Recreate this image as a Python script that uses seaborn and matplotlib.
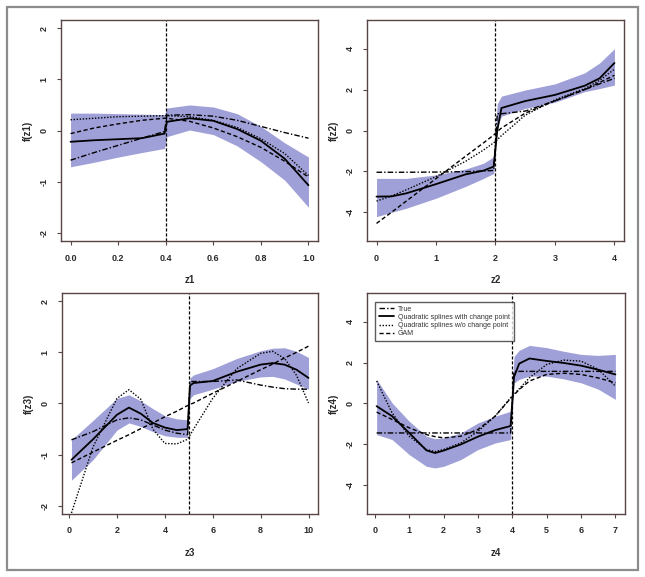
import seaborn as sns
import matplotlib.pyplot as plt
from matplotlib.patches import Rectangle

sns.set_style("ticks")
plt.rcParams["font.family"] = ["Liberation Sans", "DejaVu Sans"]
plt.rcParams["axes.unicode_minus"] = False

# values
z1 = [0.0, 0.1, 0.2, 0.3, 0.395, 0.405, 0.5, 0.6, 0.7, 0.8, 0.9, 1.0]
true1 = [-0.58, -0.43, -0.29, -0.15, -0.02, 0.30, 0.31, 0.28, 0.20, 0.08, -0.04, -0.15]
fit1 = [-0.22, -0.19, -0.17, -0.15, -0.06, 0.17, 0.24, 0.19, 0.03, -0.20, -0.55, -1.07]
nocp1 = [0.21, 0.24, 0.27, 0.28, 0.29, 0.29, 0.27, 0.20, 0.06, -0.16, -0.45, -0.88]
gam1 = [-0.06, 0.05, 0.13, 0.20, 0.24, 0.24, 0.18, 0.05, -0.12, -0.33, -0.60, -0.91]
hi1 = [0.34, 0.34, 0.33, 0.32, 0.31, 0.44, 0.50, 0.46, 0.33, 0.08, -0.24, -0.52]
lo1 = [-0.71, -0.62, -0.52, -0.43, -0.35, -0.12, 0.01, -0.08, -0.30, -0.61, -0.97, -1.50]

z2 = [0.0, 0.25, 0.5, 1.0, 1.5, 1.8, 1.97, 2.03, 2.1, 2.5, 3.0, 3.5, 3.75, 4.0]
true2 = [-2.04, -2.04, -2.04, -2.03, -2.01, -1.98, -1.95, 0.82, 0.82, 0.95, 1.45, 2.00, 2.28, 2.55]
fit2 = [-3.23, -3.22, -3.07, -2.62, -2.14, -1.96, -1.76, 0.0, 1.10, 1.44, 1.74, 2.19, 2.55, 3.30]
nocp2 = [-3.45, -3.20, -2.90, -2.25, -1.50, -0.95, -0.60, -0.45, -0.25, 0.75, 1.50, 2.05, 2.45, 3.00]
gam2 = [-4.54, -4.00, -3.45, -2.35, -1.25, -0.60, -0.22, -0.05, 0.12, 0.85, 1.45, 2.00, 2.35, 2.70]
hi2 = [-2.34, -2.34, -2.34, -2.17, -1.88, -1.60, -1.28, 1.30, 1.68, 1.98, 2.28, 2.82, 3.30, 4.00]
lo2 = [-4.21, -4.00, -3.80, -3.31, -2.73, -2.34, -2.10, 0.15, 0.70, 1.08, 1.38, 1.90, 2.05, 2.22]

z3 = [0.1, 1.0, 2.0, 2.5, 3.0, 3.5, 4.0, 4.5, 4.95, 5.05, 5.2, 6.0, 7.0, 8.0, 8.5, 9.0, 9.5, 10.0]
true3 = [-0.71, -0.55, -0.32, -0.28, -0.32, -0.42, -0.52, -0.58, -0.61, 0.43, 0.43, 0.43, 0.46, 0.36, 0.32,
         0.29, 0.28, 0.28]
fit3 = [-1.10, -0.70, -0.22, -0.08, -0.20, -0.38, -0.47, -0.52, -0.50, 0.35, 0.40, 0.44, 0.62, 0.76, 0.79,
        0.76, 0.66, 0.50]
nocp3 = [-2.14, -0.85, 0.10, 0.27, 0.08, -0.50, -0.78, -0.79, -0.70, -0.62, -0.50, 0.10, 0.68, 0.98, 1.02,
         0.88, 0.55, 0.01]
gam3 = [-1.16, -0.95, -0.72, -0.61, -0.49, -0.38, -0.26, -0.15, -0.04, -0.02, 0.01, 0.20, 0.43, 0.66, 0.77,
        0.89, 1.00, 1.12]
hi3 = [-0.71, -0.33, 0.10, 0.17, 0.05, -0.10, -0.24, -0.30, -0.32, 0.50, 0.56, 0.68, 0.88, 1.03, 1.08,
       1.09, 1.02, 0.90]
lo3 = [-1.50, -1.10, -0.52, -0.38, -0.45, -0.55, -0.63, -0.66, -0.66, 0.10, 0.17, 0.28, 0.43, 0.52, 0.53,
       0.48, 0.38, 0.28]

z4 = [0.05, 0.5, 1.0, 1.5, 1.75, 2.0, 2.5, 3.0, 3.5, 3.95, 4.05, 4.2, 4.5, 5.0, 5.5, 6.0, 6.5, 7.0]
true4 = [-1.44, -1.44, -1.44, -1.44, -1.44, -1.44, -1.44, -1.44, -1.44, -1.44, 1.57, 1.57, 1.57, 1.57,
         1.57, 1.57, 1.57, 1.57]
fit4 = [-0.13, -0.62, -1.44, -2.29, -2.42, -2.30, -2.00, -1.62, -1.30, -1.10, 1.30, 1.95, 2.20, 2.08,
        1.98, 1.85, 1.65, 1.42]
nocp4 = [1.10, -0.46, -1.60, -2.25, -2.35, -2.25, -1.93, -1.36, -0.62, 0.28, 0.45, 0.72, 1.26, 1.91,
         2.12, 2.07, 1.67, 0.85]
gam4 = [-0.42, -0.78, -1.19, -1.52, -1.62, -1.68, -1.60, -1.27, -0.62, 0.25, 0.42, 0.68, 1.10, 1.42,
        1.48, 1.42, 1.25, 1.01]
hi4 = [1.18, 0.03, -0.87, -1.60, -1.72, -1.68, -1.44, -0.95, -0.62, -0.38, 2.30, 2.60, 2.84, 2.73,
       2.55, 2.40, 2.35, 2.40]
lo4 = [-1.52, -1.76, -2.50, -3.07, -3.15, -3.07, -2.74, -2.25, -1.93, -1.76, 1.00, 1.18, 1.34, 1.34,
       1.20, 1.01, 0.70, 0.20]

change_points = [0.4, 2, 5, 4]
labels = ["True", "Quadratic splines with change point",
          "Quadratic splines w/o change point", "GAM"]

frame_col = "#574444"
band_col = "#a0a0d8"
text_col = "#2a2a2a"


def draw_panel(ax, x, true, fit, nocp, gam, lo, hi, cp, name, xlim, ylim,
               xticks, xticklabels, yticks, legend=False):
    ax.fill_between(x, lo, hi, color=band_col, lw=0, zorder=1)
    styles = [
        (true, (0, (4, 1.5, 1, 1.5)), 1.0),
        (fit, "-", 1.3),
        (nocp, (0, (1, 1.2)), 1.0),
        (gam, (0, (3, 1.8)), 1.0),
    ]
    for i, (y, ls, lw) in enumerate(styles):
        sns.lineplot(x=x, y=y, ax=ax, color="black", linestyle=ls, lw=lw,
                     estimator=None, sort=False, zorder=3,
                     label=labels[i] if legend else None)
    ax.axvline(cp, color="black", linestyle=(0, (2.5, 1.5)), lw=0.9, zorder=2)

    ax.set_xlim(*xlim)
    ax.set_ylim(*ylim)
    ax.set_xticks(xticks)
    ax.set_xticklabels(xticklabels)
    ax.set_yticks(yticks)
    ax.set_yticklabels([str(t) for t in yticks], rotation=90, va="center")
    ax.set_xlabel(name, fontsize=7, fontweight="bold", color=text_col, labelpad=9)
    ax.set_ylabel(f"f({name})", fontsize=7, fontweight="bold", color=text_col, labelpad=5)
    ax.tick_params(direction="out", length=3, width=0.8, color=frame_col,
                   labelsize=6.5, labelcolor=text_col, pad=6)
    for lab in ax.get_xticklabels() + ax.get_yticklabels():
        lab.set_fontweight("bold")
    for sp in ax.spines.values():
        sp.set_visible(True)
        sp.set_color(frame_col)
        sp.set_linewidth(1.0)

    if legend:
        leg = ax.legend(loc="upper left", bbox_to_anchor=(0.03, 0.96), fontsize=5,
                        frameon=True, fancybox=False, edgecolor="#333333",
                        handlelength=2.2, borderpad=0.55, labelspacing=0.18,
                        handletextpad=0.6, borderaxespad=0)
        leg.get_frame().set_linewidth(1.0)
        for t in leg.get_texts():
            t.set_color("#333333")
    else:
        leg = ax.get_legend()
        if leg is not None:
            leg.remove()


fig = plt.figure(figsize=(6.45, 5.77), dpi=100)

ax1 = fig.add_axes([0.0946, 0.5823, 0.3984, 0.3830])
ax2 = fig.add_axes([0.5690, 0.5823, 0.3984, 0.3830])
ax3 = fig.add_axes([0.0961, 0.1092, 0.3969, 0.3830])
ax4 = fig.add_axes([0.5690, 0.1092, 0.4000, 0.3830])

draw_panel(ax1, z1, true1, fit1, nocp1, gam1, lo1, hi1, change_points[0], "z1",
           (-0.04, 1.04), (-2.16, 2.16),
           [0, 0.2, 0.4, 0.6, 0.8, 1.0], ["0.0", "0.2", "0.4", "0.6", "0.8", "1.0"],
           [-2, -1, 0, 1, 2])
draw_panel(ax2, z2, true2, fit2, nocp2, gam2, lo2, hi2, change_points[1], "z2",
           (-0.16, 4.16), (-5.4, 5.4),
           [0, 1, 2, 3, 4], ["0", "1", "2", "3", "4"],
           [-4, -2, 0, 2, 4])
draw_panel(ax3, z3, true3, fit3, nocp3, gam3, lo3, hi3, change_points[2], "z3",
           (-0.296, 10.396), (-2.16, 2.16),
           [0, 2, 4, 6, 8, 10], ["0", "2", "4", "6", "8", "10"],
           [-2, -1, 0, 1, 2])
draw_panel(ax4, z4, true4, fit4, nocp4, gam4, lo4, hi4, change_points[3], "z4",
           (-0.23, 7.28), (-5.4, 5.4),
           [0, 1, 2, 3, 4, 5, 6, 7], ["0", "1", "2", "3", "4", "5", "6", "7"],
           [-4, -2, 0, 2, 4], legend=True)

# grey border round the whole figure
fig.patches.append(Rectangle((7 / 645, 7 / 577), 631 / 645, 563 / 577,
                             transform=fig.transFigure, fill=False,
                             ec="#8c8c8c", lw=1.6))

fig.savefig("out.png", dpi=100)
